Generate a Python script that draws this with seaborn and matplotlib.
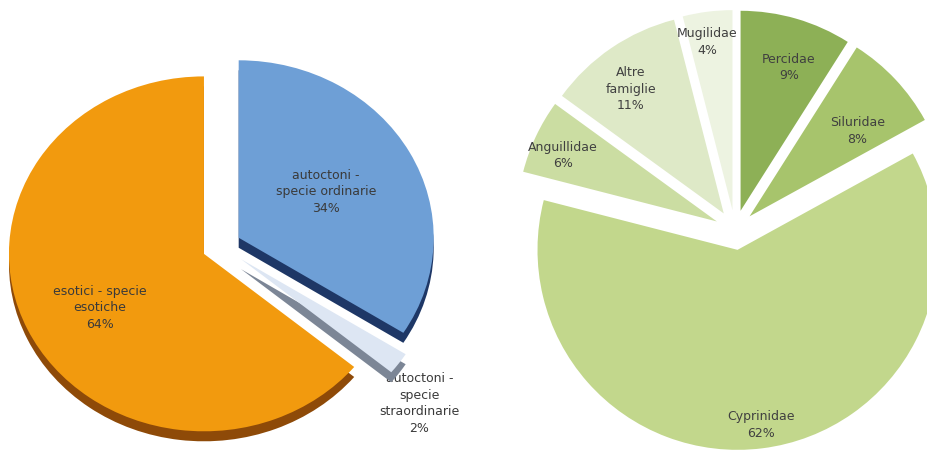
import numpy as np
import matplotlib
matplotlib.use("Agg")
import matplotlib.pyplot as plt
import seaborn as sns

# Fish fauna by origin (share of total, %)
origin_names = ["autoctoni -\nspecie ordinarie",
                "autoctoni -\nspecie\nstraordinarie",
                "esotici - specie\nesotiche"]
origin_pct = [34, 2, 64]

# Fish fauna by family (share of total, %)
family_names = ["Percidae", "Siluridae", "Cyprinidae",
                "Anguillidae", "Altre\nfamiglie", "Mugilidae"]
family_pct = [9, 8, 62, 6, 11, 4]

# Styling
origin_colors = ["#6E9FD6", "#DDE6F3", "#F29A0E"]
origin_sides = ["#1E3766", "#7C8696", "#8E4A08"]
family_colors = ["#8DB056", "#A7C46C", "#C2D78C", "#CBDDA2", "#DEE9C7", "#EDF3E1"]

sns.set_theme(style="white")
plt.rcParams["font.family"] = ["DejaVu Sans"]

W, H = 928, 452
fig = plt.figure(figsize=(W / 100, H / 100), dpi=100)
fig.patch.set_facecolor("white")


def place_labels(ax, wedges, names, pct, layout, color, zorders=None):
    for i, (w, name, p, (d, dang)) in enumerate(zip(wedges, names, pct, layout)):
        mid = np.deg2rad((w.theta1 + w.theta2) / 2 + dang)
        cx, cy = w.center
        x = cx + d * w.r * np.cos(mid)
        y = cy + d * w.r * np.sin(mid)
        z = 3 if zorders is None else zorders[i]
        ax.text(x, y, f"{name}\n{p}%", ha="center", va="center",
                fontsize=9, color=color, linespacing=1.35, zorder=z)


# ---- left pie: slightly tilted, with a visible side face ----
squash = 0.91                      # vertical compression of the tilted disc
ax1 = fig.add_axes([0, 0, 1, 1])
ax1.axis("off")
r1 = 195
c1 = (221.6, (H - 247.3) / squash)
expl1 = [19.5, 24, 19.5]
depth = 10 / squash

ax1.pie(origin_pct, colors=origin_sides, startangle=90, counterclock=False,
        explode=expl1, radius=r1, center=(c1[0], c1[1] - depth),
        wedgeprops=dict(linewidth=0), frame=True)
wedges1, _ = ax1.pie(origin_pct, colors=origin_colors, startangle=90,
                     counterclock=False, explode=expl1, radius=r1, center=c1,
                     wedgeprops=dict(linewidth=0), frame=True)
ax1.set_aspect("auto")
ax1.set_xlim(0, W)
ax1.set_ylim(0, H / squash)
ax1.axis("off")
place_labels(ax1, wedges1, origin_names, origin_pct,
             [(0.52, 2.0), (1.22, -5.4), (0.61, 4.0)], "#3A3A3A",
             zorders=[3, 0.5, 3])

# ---- right pie: families ----
ax2 = fig.add_axes([0, 0, 1, 1])
ax2.axis("off")
r2 = 200
c2 = (735, H - 231)
wedges2, _ = ax2.pie(family_pct, colors=family_colors, startangle=90,
                     counterclock=False, explode=[20] * len(family_pct),
                     radius=r2, center=c2, wedgeprops=dict(linewidth=0),
                     frame=True)
ax2.set_aspect("auto")
ax2.set_xlim(0, W)
ax2.set_ylim(0, H)
ax2.axis("off")
place_labels(ax2, wedges2, family_names, family_pct,
             [(0.76, -2.3), (0.69, -4.5), (0.88, 0.6),
              (0.84, 1.7), (0.78, 2.5), (0.855, 1.4)], "#404040")

fig.savefig("out.png", dpi=100, facecolor="white")
